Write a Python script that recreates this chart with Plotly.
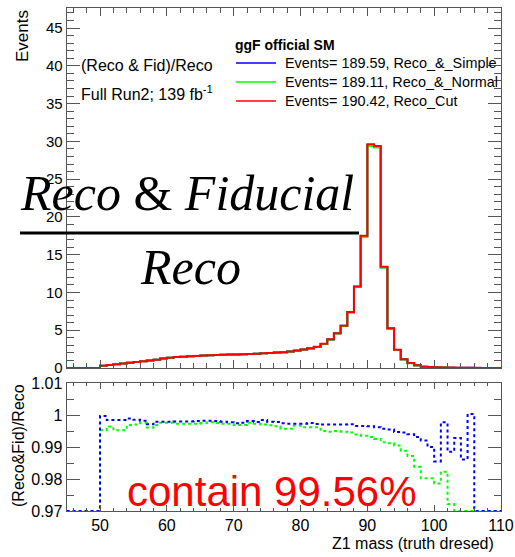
import numpy as np
import plotly.graph_objects as go

# ---------------- data ----------------
bin_edges = list(range(45, 111))  # 1 GeV bins, 45 -> 110

reco_cut = [0, 0, 0, 0, 0,
            0.3, 0.4, 0.5, 0.6, 0.7, 0.8, 0.9, 1.0, 1.1, 1.25,
            1.35, 1.45, 1.5, 1.55, 1.6, 1.65, 1.7, 1.72, 1.75, 1.78,
            1.8, 1.82, 1.85, 1.9, 1.95, 2.0, 2.05, 2.1, 2.2, 2.3,
            2.45, 2.6, 2.8, 3.2, 3.8, 4.6, 5.6, 7.4, 10.8, 17.5,
            29.6, 29.4, 13.4, 5.25, 2.4, 1.15, 0.65, 0.35, 0.18, 0.12,
            0.1, 0.07, 0.05, 0.04, 0.03, 0.02, 0.02, 0.01, 0.01, 0.01]

ratio_simple = [0, 0, 0, 0, 0,
                0.9997, 0.9984, 0.9984, 0.9984, 0.9989, 0.9985, 0.9982, 0.9971, 0.9979, 0.9979,
                0.9979, 0.9980, 0.9980, 0.9980, 0.9981, 0.9982, 0.9982, 0.9981, 0.9979, 0.9977,
                0.9974, 0.9976, 0.9981, 0.9978, 0.9984, 0.9979, 0.9978, 0.9974, 0.9973, 0.9973,
                0.9973, 0.9975, 0.9972, 0.9970, 0.9970, 0.9970, 0.9970, 0.9971, 0.9966, 0.9966,
                0.9965, 0.9962, 0.9957, 0.9955, 0.9947, 0.9945, 0.9940, 0.9931, 0.9920, 0.9900,
                0.9855, 0.9977, 0.9885, 0.9928, 0.9861, 1.0003, 0, 0, 0, 0]

ratio_normal = [0, 0, 0, 0, 0,
                0.9952, 0.9964, 0.9952, 0.9952, 0.9969, 0.9970, 0.9976, 0.9961, 0.9969, 0.9976,
                0.9976, 0.9973, 0.9973, 0.9973, 0.9973, 0.9975, 0.9977, 0.9975, 0.9973, 0.9973,
                0.9969, 0.9969, 0.9976, 0.9973, 0.9970, 0.9968, 0.9965, 0.9957, 0.9957, 0.9967,
                0.9962, 0.9962, 0.9962, 0.9950, 0.9948, 0.9950, 0.9948, 0.9945, 0.9939, 0.9935,
                0.9931, 0.9925, 0.9915, 0.9912, 0.9905, 0.9888, 0.9872, 0.9838, 0.9802, 0.9802,
                0.9786, 0.9823, 0.9722, 0, 0, 0, 0, 0, 0, 0]

legend_header = "ggF official SM"
legend_labels = ["Events= 189.59, Reco_&_Simple",
                 "Events= 189.11, Reco_&_Normal",
                 "Events= 190.42, Reco_Cut"]
series_colors = ["#0000ff", "#00ff00", "#ff0000"]

x_ticks = [50, 60, 70, 80, 90, 100, 110]
ratio_range = [0.97, 1.01]
top_range = [0, 47.65]

# ---------------- geometry helpers ----------------
W, H = 515, 557
def px(x):
    return x / W
def py(y):
    return 1 - y / H

X_L, X_R = 66.6, 501
TOP_T, TOP_B = 8, 368
BOT_T, BOT_B = 383, 511

FONT = "Liberation Sans, Arial, Helvetica, sans-serif"
AXC = "#555555"

edges = np.array(bin_edges, dtype=float)
red = np.array(reco_cut)
blue = red * np.array(ratio_simple)
green = red * np.array(ratio_normal)

def step_y(v):
    v = list(v)
    return v + [v[-1]]

fig = go.Figure()

# top panel histograms
for vals, col, w in [(blue, series_colors[0], 2), (green, series_colors[1], 2), (red, series_colors[2], 2)]:
    fig.add_trace(go.Scatter(x=edges, y=step_y(vals), mode="lines",
                             line=dict(color=col, width=w, shape="hv"),
                             xaxis="x2", yaxis="y2", showlegend=False, hoverinfo="skip"))

# ratio panel
for r, col in [(ratio_normal, series_colors[1]), (ratio_simple, series_colors[0])]:
    rr = np.clip(np.array(r), ratio_range[0], ratio_range[1])
    fig.add_trace(go.Scatter(x=edges, y=step_y(rr), mode="lines",
                             line=dict(color=col, width=2, shape="hv", dash="dot"),
                             xaxis="x", yaxis="y", showlegend=False, hoverinfo="skip"))

common_axis = dict(showline=True, linecolor=AXC, linewidth=1, mirror="allticks",
                   ticks="inside", tickcolor=AXC, showgrid=False, zeroline=False,
                   automargin=False)

fig.update_layout(
    template="none",
    width=W, height=H, autosize=False,
    margin=dict(l=0, r=0, t=0, b=0, pad=0),
    paper_bgcolor="white", plot_bgcolor="white",
    font=dict(family=FONT, color="black"),
    hovermode=False,
    xaxis=dict(domain=[px(X_L), px(X_R)], anchor="y", range=[45, 110],
               tickmode="array", tickvals=x_ticks, ticklen=6,
               minor=dict(ticks="inside", dtick=2, tick0=0, ticklen=3, tickcolor=AXC),
               tickfont=dict(size=16, family=FONT), **common_axis),
    yaxis=dict(domain=[py(BOT_B), py(BOT_T)], anchor="x", range=ratio_range,
               tickmode="array", tickvals=[0.97, 0.98, 0.99, 1.0, 1.01],
               ticktext=["0.97", "0.98", "0.99", "1", "1.01"], ticklen=13,
               minor=dict(ticks="inside", dtick=0.005, tick0=0.97, ticklen=7, tickcolor=AXC),
               tickfont=dict(size=16, family=FONT), **common_axis),
    xaxis2=dict(domain=[px(X_L), px(X_R)], anchor="y2", range=[45, 110], matches="x",
                tickmode="array", tickvals=x_ticks, ticklen=8, showticklabels=False,
                minor=dict(ticks="inside", dtick=2, tick0=0, ticklen=5, tickcolor=AXC),
                **common_axis),
    yaxis2=dict(domain=[py(TOP_B), py(TOP_T)], anchor="x2", range=top_range,
                tickmode="linear", tick0=0, dtick=5, ticklen=13,
                minor=dict(ticks="inside", dtick=1, tick0=0, ticklen=7, tickcolor=AXC),
                tickfont=dict(size=15, family=FONT), **common_axis),
)

ann = []
def add_text(x, y, text, size, xanchor="left", yanchor="middle", color="black",
             family=FONT, angle=0):
    ann.append(dict(x=px(x), y=py(y), xref="paper", yref="paper", text=text,
                    showarrow=False, xanchor=xanchor, yanchor=yanchor, textangle=angle,
                    font=dict(size=size, color=color, family=family)))

# axis titles
add_text(23, 8, "Events", 17, xanchor="center", yanchor="top", angle=-90)
add_text(18, 446, "(Reco&Fid)/Reco", 16, xanchor="center", yanchor="middle", angle=-90)
add_text(496, 543, "Z1 mass (truth dresed)", 16, xanchor="right", yanchor="middle")

# info text
add_text(79, 65, "(Reco & Fid)/Reco", 16)
add_text(79, 93, "Full Run2; 139 fb<sup>-1</sup>", 16)

# legend
add_text(233, 45, "<b>" + legend_header + "</b>", 14)
shapes = []
leg_y = [63, 82, 101]
for lab, col, yy in zip(legend_labels, series_colors, leg_y):
    shapes.append(dict(type="line", xref="paper", yref="paper",
                       x0=px(236), x1=px(276), y0=py(yy), y1=py(yy),
                       line=dict(color=col, width=1.5)))
    add_text(283, yy, lab, 14.4)

# big fraction
SERIF = "Liberation Serif, Times New Roman, serif"
add_text(187, 193, "<i>Reco</i> &amp; <i>Fiducial</i>", 50, xanchor="center", family=SERIF)
shapes.append(dict(type="line", xref="paper", yref="paper",
                   x0=px(20), x1=px(359), y0=py(233), y1=py(233),
                   line=dict(color="black", width=3)))
add_text(190, 267, "<i>Reco</i>", 50, xanchor="center", family=SERIF)

# contain text
add_text(272, 491, "contain 99.56%", 42, xanchor="center", color="#ff0000")

fig.update_layout(annotations=ann, shapes=shapes)
fig.write_html("out.html", config={"displayModeBar": False},
               post_script="document.body.style.margin='0px';")
